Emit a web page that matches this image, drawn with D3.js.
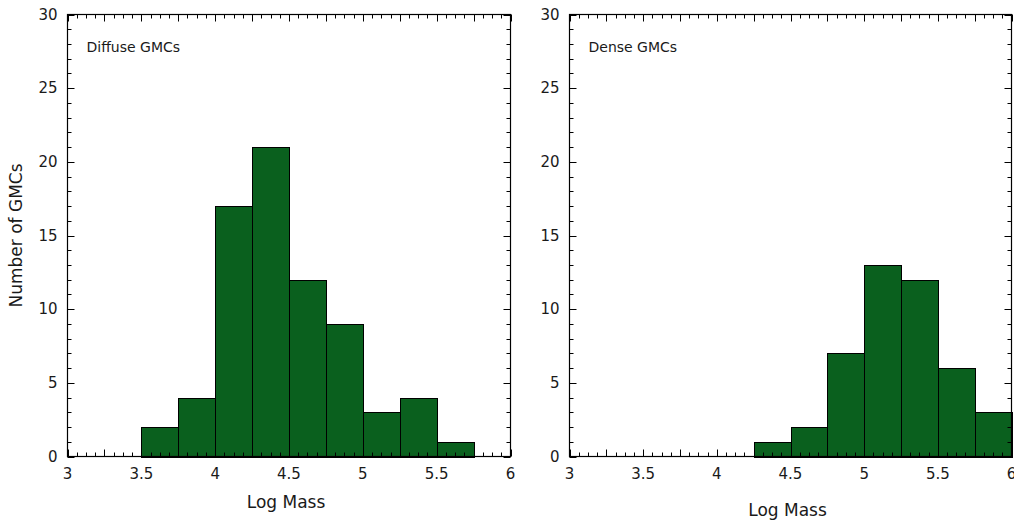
<!DOCTYPE html>
<html>
<head>
<meta charset="utf-8">
<script src="https://cdn.jsdelivr.net/npm/d3@7"></script>
<style>
  body { margin: 0; background: #fff; }
  svg { display: block; }
  text { font-family: "DejaVu Sans", Verdana, sans-serif; fill: #1a1a1a; }
</style>
</head>
<body>
<svg id="chart" width="1014" height="525"></svg>
<script>
// bin left edges (log mass), width 0.25
var diffuseBins = [3.5, 3.75, 4, 4.25, 4.5, 4.75, 5, 5.25, 5.5];
var diffuseCounts = [2, 4, 17, 21, 12, 9, 3, 4, 1];
var denseBins = [4.25, 4.5, 4.75, 5, 5.25, 5.5, 5.75];
var denseCounts = [1, 2, 7, 13, 12, 6, 3];
var binWidth = 0.25;
var xTicks = [3, 3.5, 4, 4.5, 5, 5.5, 6];
var yTicks = [0, 5, 10, 15, 20, 25, 30];
var panelNames = ["Diffuse GMCs", "Dense GMCs"];

var svg = d3.select("#chart"),
	plotTop = 14.5, plotBottom = 456.5,
	barColor = "#0a601e";

var panels = [
	{ left: 67.5, right: 510.5, name: panelNames[0], bins: diffuseBins, counts: diffuseCounts, yTitle: true },
	{ left: 569.5, right: 1011.5, name: panelNames[1], bins: denseBins, counts: denseCounts, yTitle: false }
];

panels.forEach(function(p) {
	var x = d3.scaleLinear().domain([3, 6]).range([p.left, p.right]),
		y = d3.scaleLinear().domain([0, 30]).range([plotBottom, plotTop]);
	var g = svg.append("g");

	// bars
	var data = p.bins.map(function(b, i) { return { x0: b, n: p.counts[i] }; });
	g.selectAll(".bar").data(data).enter().append("rect")
		.attr("class", "bar")
		.attr("x", function(d) { return Math.round(x(d.x0)) + 0.5; })
		.attr("y", function(d) { return Math.round(y(d.n)) + 0.5; })
		.attr("width", function(d) { return Math.round(x(d.x0 + binWidth)) - Math.round(x(d.x0)); })
		.attr("height", function(d) { return Math.round(y(0)) - Math.round(y(d.n)); })
		.attr("fill", barColor)
		.attr("stroke", "#000")
		.attr("stroke-width", 1);

	// x ticks, inward, bottom and top
	d3.range(0, 49).forEach(function(i) {
		var v = 3 + i * 0.0625;
		var len = (i % 4 === 0) ? 7 : 4;
		var px = Math.round(x(v)) + 0.5;
		g.append("line").attr("x1", px).attr("x2", px).attr("y1", plotBottom).attr("y2", plotBottom - len).attr("stroke", "#000");
		g.append("line").attr("x1", px).attr("x2", px).attr("y1", plotTop).attr("y2", plotTop + len).attr("stroke", "#000");
	});

	// y ticks, inward, left and right
	d3.range(0, 31).forEach(function(v) {
		var len = (v % 5 === 0) ? 7 : 4;
		var py = Math.round(y(v)) + 0.5;
		g.append("line").attr("x1", p.left).attr("x2", p.left + len).attr("y1", py).attr("y2", py).attr("stroke", "#000");
		g.append("line").attr("x1", p.right).attr("x2", p.right - len).attr("y1", py).attr("y2", py).attr("stroke", "#000");
	});

	// frame
	g.append("rect")
		.attr("x", p.left).attr("y", plotTop)
		.attr("width", p.right - p.left).attr("height", plotBottom - plotTop)
		.attr("fill", "none").attr("stroke", "#000").attr("stroke-width", 1.2);

	// tick labels
	g.selectAll(".xlab").data(xTicks).enter().append("text")
		.attr("x", function(d) { return x(d); })
		.attr("y", plotBottom + 22)
		.attr("text-anchor", "middle")
		.attr("font-size", 15)
		.text(function(d) { return d; });
	g.selectAll(".ylab").data(yTicks).enter().append("text")
		.attr("x", p.left - 10)
		.attr("y", function(d) { return y(d) + 5; })
		.attr("text-anchor", "end")
		.attr("font-size", 15)
		.text(function(d) { return d; });

	// panel label
	g.append("text")
		.attr("x", p.left + 19).attr("y", 52)
		.attr("font-size", 14)
		.text(p.name);

	// axis title
	g.append("text")
		.attr("x", (p.left + p.right) / 2 - 3)
		.attr("y", p.yTitle ? 508 : 516)
		.attr("text-anchor", "middle")
		.attr("font-size", 17)
		.text("Log Mass");

	if (p.yTitle) {
		g.append("text")
			.attr("transform", "translate(22," + ((plotTop + plotBottom) / 2) + ") rotate(-90)")
			.attr("text-anchor", "middle")
			.attr("font-size", 17)
			.text("Number of GMCs");
	}
});
</script>
</body>
</html>
